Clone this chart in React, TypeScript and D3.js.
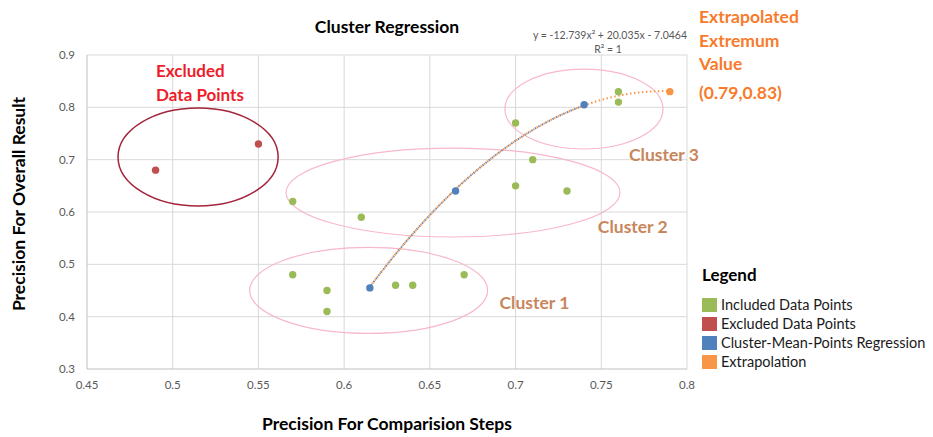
import { useEffect, useRef } from 'react';
import * as d3 from 'd3';

// included data points: [precision for steps, precision overall]
const includedX = [0.57, 0.61, 0.57, 0.59, 0.59, 0.63, 0.64, 0.67, 0.7, 0.71, 0.7, 0.73, 0.76, 0.76];
const includedY = [0.62, 0.59, 0.48, 0.45, 0.41, 0.46, 0.46, 0.48, 0.77, 0.7, 0.65, 0.64, 0.83, 0.81];

const excludedX = [0.49, 0.55];
const excludedY = [0.68, 0.73];

// cluster means used for the regression
const meanX = [0.615, 0.665, 0.74];
const meanY = [0.455, 0.64, 0.805];

const extremumX = [0.79];
const extremumY = [0.83];

// trendline y = a x^2 + b x + c
const trendCoef = [-12.739, 20.035, -7.0464];

const xTicks = [0.45, 0.5, 0.55, 0.6, 0.65, 0.7, 0.75, 0.8];
const yTicks = [0.3, 0.4, 0.5, 0.6, 0.7, 0.8, 0.9];

const legendLabels = ['Included Data Points', 'Excluded Data Points', 'Cluster-Mean-Points Regression', 'Extrapolation'];
const legendColors = ['#9bbb59', '#c0504d', '#4f81bd', '#f79646'];

// ellipses round the groups: cx, cy, rx, ry in data units
const clusterNames = ['Excluded', 'Cluster 1', 'Cluster 2', 'Cluster 3'];
const ellipseCx = [0.5148, 0.6143, 0.6635, 0.7399];
const ellipseCy = [0.705, 0.4502, 0.6372, 0.7968];
const ellipseRx = [0.0467, 0.0694, 0.0974, 0.0461];
const ellipseRy = [0.0936, 0.0822, 0.085, 0.0764];

const clusterLabelX = [0.6906, 0.748, 0.7662];
const clusterLabelY = [0.4268, 0.5713, 0.709];

const FONT = 'Lato, "Open Sans", sans-serif';

export default function App() {
  const svgRef = useRef<SVGSVGElement>(null);

  useEffect(() => {
    if (!svgRef.current) return;
    d3.select(svgRef.current).selectAll('*').remove();

    const width = 933;
    const height = 437;
    const margin = { top: 55, right: 246, bottom: 68, left: 87 };

    const svg = d3
      .select(svgRef.current)
      .attr('width', width)
      .attr('height', height)
      .style('font-family', FONT);

    svg.append('rect').attr('width', width).attr('height', height).attr('fill', '#fff');

    const x = d3.scaleLinear().domain([0.45, 0.8]).range([margin.left, width - margin.right]);
    const y = d3.scaleLinear().domain([0.3, 0.9]).range([height - margin.bottom, margin.top]);

    // gridlines
    svg
      .append('g')
      .selectAll('line')
      .data(xTicks.slice(1))
      .enter()
      .append('line')
      .attr('x1', (d) => x(d))
      .attr('x2', (d) => x(d))
      .attr('y1', y(0.3))
      .attr('y2', y(0.9))
      .attr('stroke', '#d9d9d9');
    svg
      .append('g')
      .selectAll('line')
      .data(yTicks.slice(1))
      .enter()
      .append('line')
      .attr('x1', x(0.45))
      .attr('x2', x(0.8))
      .attr('y1', (d) => y(d))
      .attr('y2', (d) => y(d))
      .attr('stroke', '#d9d9d9');

    // axis lines
    svg
      .append('line')
      .attr('x1', x(0.45))
      .attr('x2', x(0.45))
      .attr('y1', y(0.3))
      .attr('y2', y(0.9))
      .attr('stroke', '#bfbfbf');
    svg
      .append('line')
      .attr('x1', x(0.45))
      .attr('x2', x(0.8))
      .attr('y1', y(0.3))
      .attr('y2', y(0.3))
      .attr('stroke', '#bfbfbf');

    // tick labels
    svg
      .append('g')
      .selectAll('text')
      .data(xTicks)
      .enter()
      .append('text')
      .attr('x', (d) => x(d))
      .attr('y', y(0.3) + 20)
      .attr('text-anchor', 'middle')
      .attr('fill', '#595959')
      .style('font-size', '11.5px')
      .text((d) => d3.format('')(d));
    svg
      .append('g')
      .selectAll('text')
      .data(yTicks)
      .enter()
      .append('text')
      .attr('x', x(0.45) - 12)
      .attr('y', (d) => y(d))
      .attr('dy', '0.35em')
      .attr('text-anchor', 'end')
      .attr('fill', '#595959')
      .style('font-size', '11.5px')
      .text((d) => d3.format('')(d));

    // ellipses
    svg
      .append('g')
      .selectAll('ellipse')
      .data(clusterNames)
      .enter()
      .append('ellipse')
      .attr('cx', (_, i) => x(ellipseCx[i]))
      .attr('cy', (_, i) => y(ellipseCy[i]))
      .attr('rx', (_, i) => x(ellipseCx[i] + ellipseRx[i]) - x(ellipseCx[i]))
      .attr('ry', (_, i) => y(ellipseCy[i]) - y(ellipseCy[i] + ellipseRy[i]))
      .attr('fill', 'none')
      .attr('stroke', (_, i) => (i === 0 ? '#a4243b' : '#f7b8cb'))
      .attr('stroke-width', (_, i) => (i === 0 ? 1.5 : 1.2));

    // trendline
    const f = (v: number) => trendCoef[0] * v * v + trendCoef[1] * v + trendCoef[2];
    const line = d3
      .line<number>()
      .x((d) => x(d))
      .y((d) => y(f(d)))
      .curve(d3.curveMonotoneX);
    const extrapolated = d3.range(meanX[0], extremumX[0] + 0.0001, 0.002);
    const fitted = d3.range(meanX[0], meanX[2] + 0.0001, 0.002);
    svg
      .append('path')
      .attr('d', line(extrapolated))
      .attr('fill', 'none')
      .attr('stroke', '#f79646')
      .attr('stroke-width', 2)
      .attr('stroke-dasharray', '1.5,2.5');
    svg
      .append('path')
      .attr('d', line(fitted))
      .attr('fill', 'none')
      .attr('stroke', '#7289ad')
      .attr('stroke-width', 2)
      .attr('stroke-dasharray', '1.5,2.5')
      .attr('stroke-dashoffset', 2);

    // points
    const dot = (xs: number[], ys: number[], color: string) => {
      svg
        .append('g')
        .selectAll('circle')
        .data(xs)
        .enter()
        .append('circle')
        .attr('cx', (d) => x(d))
        .attr('cy', (_, i) => y(ys[i]))
        .attr('r', 3.7)
        .attr('fill', color);
    };
    dot(includedX, includedY, legendColors[0]);
    dot(excludedX, excludedY, legendColors[1]);
    dot(meanX, meanY, legendColors[2]);
    dot(extremumX, extremumY, legendColors[3]);

    // cluster labels
    svg
      .append('g')
      .selectAll('text')
      .data(clusterNames.slice(1))
      .enter()
      .append('text')
      .attr('x', (_, i) => x(clusterLabelX[i]))
      .attr('y', (_, i) => y(clusterLabelY[i]))
      .attr('dy', '0.35em')
      .attr('fill', '#c8865c')
      .style('font-size', '17.5px')
      .style('font-weight', 'bold')
      .text((d) => d);

    // excluded label
    svg
      .append('text')
      .attr('fill', '#ee1d2b')
      .style('font-size', '17px')
      .style('font-weight', 'bold')
      .selectAll('tspan')
      .data(['Excluded', 'Data Points'])
      .enter()
      .append('tspan')
      .attr('x', x(0.4903))
      .attr('y', (_, i) => y([0.869, 0.824][i]))
      .attr('dy', '0.35em')
      .text((d) => d);

    // extrapolated extremum label
    svg
      .append('g')
      .selectAll('text')
      .data(['Extrapolated', 'Extremum', 'Value', '(0.79,0.83)'])
      .enter()
      .append('text')
      .attr('x', x(0.8) + 12)
      .attr('y', (_, i) => [17, 41, 64, 93][i])
      .attr('dy', '0.35em')
      .attr('fill', '#f77b2b')
      .style('font-size', '17.5px')
      .style('font-weight', 'bold')
      .text((d) => d);

    // equation
    svg
      .append('text')
      .attr('x', x(0.8))
      .attr('y', 35)
      .attr('dy', '0.35em')
      .attr('text-anchor', 'end')
      .attr('fill', '#595959')
      .style('font-size', '10.5px')
      .text('y = -12.739x² + 20.035x - 7.0464');
    svg
      .append('text')
      .attr('x', 608)
      .attr('y', 49)
      .attr('dy', '0.35em')
      .attr('text-anchor', 'middle')
      .attr('fill', '#595959')
      .style('font-size', '10.5px')
      .text('R² = 1');

    // title
    svg
      .append('text')
      .attr('x', (x(0.45) + x(0.8)) / 2)
      .attr('y', 27)
      .attr('dy', '0.35em')
      .attr('text-anchor', 'middle')
      .style('font-size', '17.5px')
      .style('font-weight', 'bold')
      .text('Cluster Regression');

    // axis titles
    svg
      .append('text')
      .attr('x', (x(0.45) + x(0.8)) / 2)
      .attr('y', 424)
      .attr('dy', '0.35em')
      .attr('text-anchor', 'middle')
      .style('font-size', '17.5px')
      .style('font-weight', 'bold')
      .text('Precision For Comparision Steps');
    svg
      .append('text')
      .attr('transform', `translate(19,${(y(0.3) + y(0.9)) / 2 - 8}) rotate(-90)`)
      .attr('dy', '0.35em')
      .attr('text-anchor', 'middle')
      .style('font-size', '17.5px')
      .style('font-weight', 'bold')
      .text('Precision For Overall Result');

    // legend
    const legend = svg.append('g').attr('transform', 'translate(702,275)');
    legend
      .append('text')
      .attr('dy', '0.35em')
      .style('font-size', '17px')
      .style('font-weight', 'bold')
      .text('Legend');
    const rows = legend
      .selectAll('g.row')
      .data(legendLabels)
      .enter()
      .append('g')
      .attr('class', 'row')
      .attr('transform', (_, i) => `translate(0,${30 + i * 19})`);
    rows
      .append('rect')
      .attr('y', -7)
      .attr('width', 15)
      .attr('height', 14)
      .attr('fill', (_, i) => legendColors[i]);
    rows
      .append('text')
      .attr('x', 19)
      .attr('dy', '0.35em')
      .attr('fill', '#1a1a1a')
      .style('font-size', '14.5px')
      .text((d) => d);
  }, []);

  return (
    <div style={{ position: 'absolute', left: 0, top: 0 }}>
      <svg ref={svgRef}></svg>
    </div>
  );
}
